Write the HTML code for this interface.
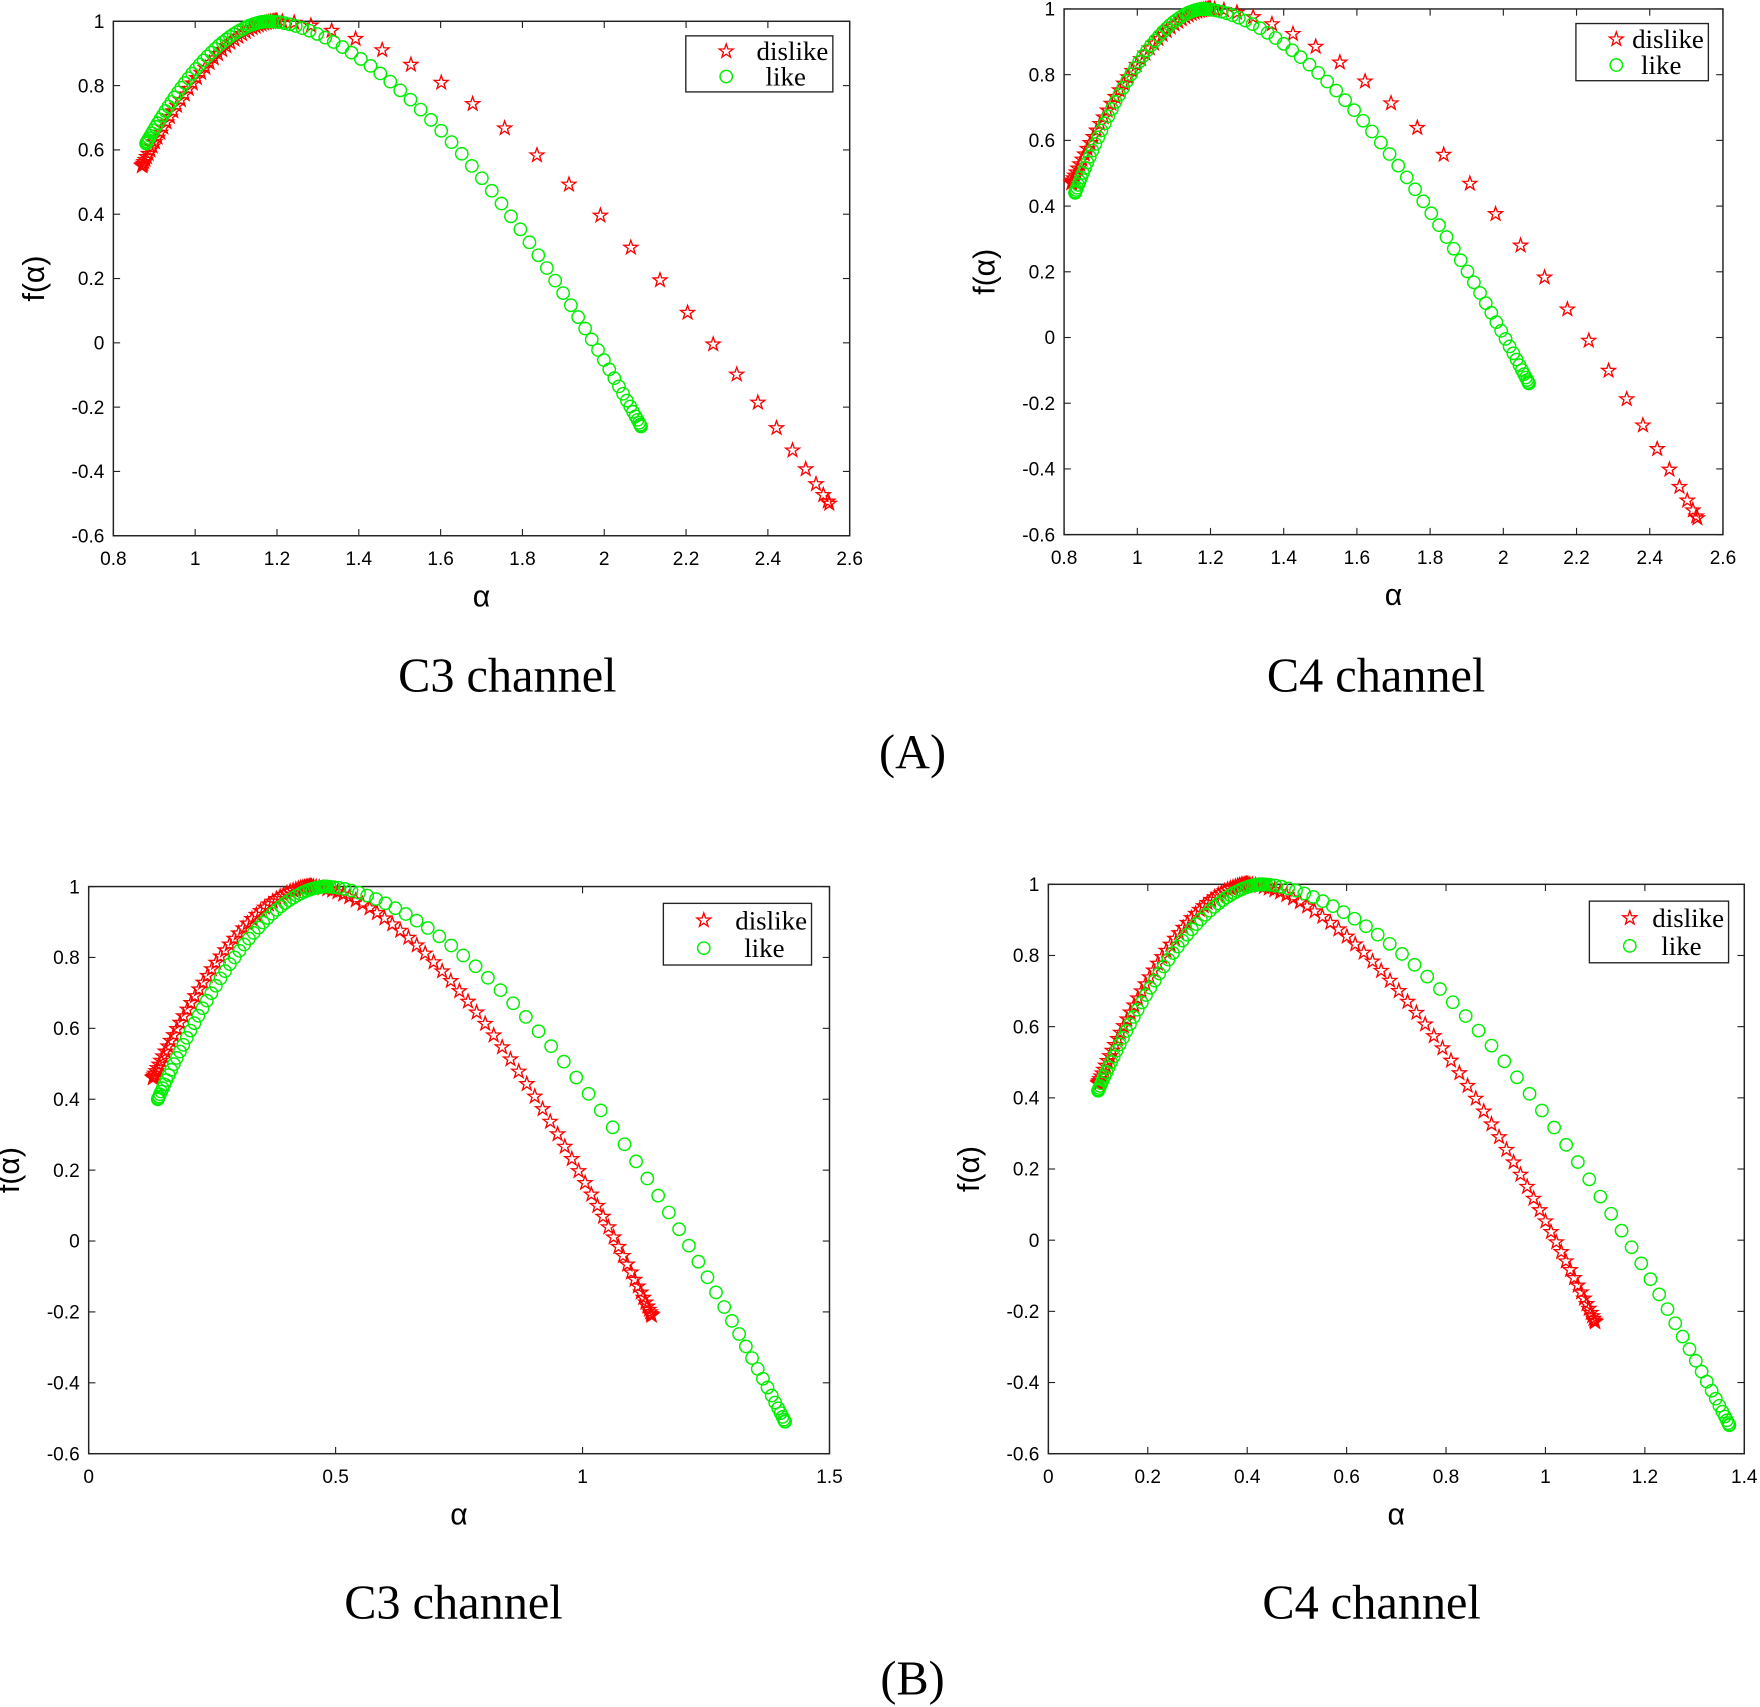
<!DOCTYPE html>
<html><head><meta charset="utf-8"><style>
html,body{margin:0;padding:0;background:#fff}
svg{display:block}
</style></head><body>
<svg id="s" width="1760" height="1707" viewBox="0 0 1568 1523" preserveAspectRatio="none" xmlns="http://www.w3.org/2000/svg"></svg>
<script>
const S=document.getElementById('s');let h='';
function panel(P){
 const {x0,x1,y0,y1,xmin,xmax,xt,ymin,ymax,series,leg}=P;
 const X=v=>x0+(v-xmin)/(xmax-xmin)*(x1-x0), Y=v=>y1-(v-ymin)/(ymax-ymin)*(y1-y0);
 h+=`<rect x="${x0}" y="${y0}" width="${x1-x0}" height="${y1-y0}" fill="none" stroke="#222" stroke-width="1.3"/>`;
 xt.forEach(v=>{const x=X(v);h+=`<line x1="${x}" y1="${y1}" x2="${x}" y2="${y1-6}" stroke="#222"/><line x1="${x}" y1="${y0}" x2="${x}" y2="${y0+6}" stroke="#222"/><text x="${x}" y="${y1+26}" font-size="17" text-anchor="middle" font-family="Liberation Sans,sans-serif">${v}</text>`;});
 for(let i=0;i<=8;i++){const v=-0.6+0.2*i,y=Y(v);const t=Math.abs(v)<1e-9?'0':(+v.toFixed(1)).toString();
  h+=`<line x1="${x0}" y1="${y}" x2="${x0+6}" y2="${y}" stroke="#222"/><line x1="${x1}" y1="${y}" x2="${x1-6}" y2="${y}" stroke="#222"/><text x="${x0-8}" y="${y+6}" font-size="17" text-anchor="end" font-family="Liberation Sans,sans-serif">${t}</text>`;}
 h+=`<text x="${(x0+x1)/2}" y="${y1+63}" font-size="27" text-anchor="middle" font-family="Liberation Sans,sans-serif">α</text>`;
 h+=`<text transform="translate(${x0-62},${(y0+y1)/2}) rotate(-90)" font-size="27" text-anchor="middle" font-family="Liberation Sans,sans-serif">f(α)</text>`;
 series.forEach(s=>{
  const [a0,lx,ly,rx,ry,nl,nr]=s.p;const pts=[];
  const kl=(1-ly)/Math.pow(a0-lx,1.8), kr=(1-ry)/Math.pow(rx-a0,1.7);
  for(let i=0;i<=nl;i++){const t=i/nl,d=(a0-lx)*(1-Math.cos(t*Math.PI))/2;pts.push([a0-d,1-kl*Math.pow(d,1.8)]);}
  for(let i=1;i<=nr;i++){const t=i/nr,d=(rx-a0)*(1-Math.cos(Math.pow(t,0.85)*Math.PI))/2;pts.push([a0+d,1-kr*Math.pow(d,1.7)]);}
  pts.forEach(([a,f])=>{h+=mark(s.t,X(a),Y(f));});
 });
 const [lx0,ly0,lx1,ly1]=leg;const lm=(ly0+ly1)/2;
 h+=`<rect x="${lx0}" y="${ly0}" width="${lx1-lx0}" height="${ly1-ly0}" fill="#fff" stroke="#222" stroke-width="1.2"/>`;
 h+=mark('s',lx0+36,ly0+(lm-ly0)*0.55)+mark('c',lx0+36,lm+(ly1-lm)*0.45);
 h+=`<text x="${lx1-4}" y="${ly0+(lm-ly0)*0.55+8}" font-size="24" text-anchor="end" font-family="Liberation Serif,serif">dislike</text>`;
 h+=`<text x="${lx1-24}" y="${lm+(ly1-lm)*0.45+8}" font-size="24" text-anchor="end" font-family="Liberation Serif,serif">like</text>`;
}
function mark(t,x,y){
 if(t==='c')return `<circle cx="${x.toFixed(1)}" cy="${y.toFixed(1)}" r="5.5" fill="none" stroke="#00ee00" stroke-width="1.3"/>`;
 let p=[];for(let i=0;i<10;i++){const r=i%2?2.6:6.5,a=-Math.PI/2+i*Math.PI/5;p.push((x+r*Math.cos(a)).toFixed(1)+','+(y+r*Math.sin(a)).toFixed(1));}
 return `<polygon points="${p.join(' ')}" fill="none" stroke="#ff0000" stroke-width="1.2"/>`;
}
panel({x0:101,x1:757,y0:19,y1:478,xmin:0.8,xmax:2.6,xt:[0.8,1,1.2,1.4,1.6,1.8,2,2.2,2.4,2.6],ymin:-0.6,ymax:1,
 series:[{t:'s',p:[1.2,0.87,0.55,2.55,-0.5,50,26]},{t:'c',p:[1.18,0.88,0.62,2.09,-0.26,50,55]}],leg:[611,32,742,82]});
panel({x0:948,x1:1535,y0:8,y1:477,xmin:0.8,xmax:2.6,xt:[0.8,1,1.2,1.4,1.6,1.8,2,2.2,2.4,2.6],ymin:-0.6,ymax:1,
 series:[{t:'s',p:[1.2,0.82,0.47,2.53,-0.55,50,28]},{t:'c',p:[1.18,0.83,0.44,2.07,-0.14,50,55]}],leg:[1404,21,1522,72]});
panel({x0:79,x1:739,y0:791,y1:1297,xmin:0,xmax:1.5,xt:[0,0.5,1,1.5],ymin:-0.6,ymax:1,
 series:[{t:'s',p:[0.45,0.13,0.46,1.14,-0.21,55,60]},{t:'c',p:[0.48,0.14,0.40,1.41,-0.51,55,55]}],leg:[591,806,723,861]});
panel({x0:934,x1:1554,y0:789,y1:1297,xmin:0,xmax:1.4,xt:[0,0.2,0.4,0.6,0.8,1,1.2,1.4],ymin:-0.6,ymax:1,
 series:[{t:'s',p:[0.40,0.10,0.44,1.10,-0.23,55,60]},{t:'c',p:[0.43,0.10,0.42,1.37,-0.52,55,55]}],leg:[1416,804,1540,859]});
const T=(x,y,s)=>h+=`<text x="${x}" y="${y}" font-size="43" text-anchor="middle" font-family="Liberation Serif,serif">${s}</text>`;
T(452,617,'C3 channel');T(1226,617,'C4 channel');T(813,685,'(A)');
T(404,1444,'C3 channel');T(1222,1444,'C4 channel');T(813,1512,'(B)');
S.innerHTML=h;
</script>
</body></html>
